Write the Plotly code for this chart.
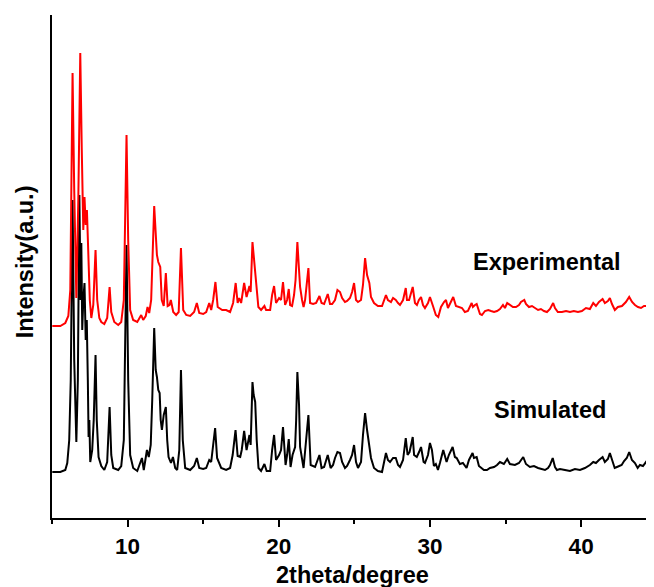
import plotly.graph_objects as go

# Experimental pattern (red), 2theta in degrees and intensity (a.u.)
exp_2theta = [5.02, 5.55, 5.88, 6.08, 6.21, 6.36, 6.47, 6.61, 6.74, 6.87, 6.97, 7.07, 7.15, 7.23, 7.31, 7.40, 7.50, 7.60, 7.73, 7.88,
              7.99, 8.13, 8.26, 8.46, 8.65, 8.81, 8.92, 9.12, 9.38, 9.58, 9.75, 9.93, 10.04, 10.17, 10.37, 10.64, 10.77, 10.90, 11.03, 11.20,
              11.32, 11.43, 11.56, 11.76, 11.94, 12.03, 12.16, 12.26, 12.39, 12.53, 12.65, 12.77, 12.86, 13.02, 13.21, 13.38, 13.53, 13.68, 13.88, 14.14,
              14.40, 14.58, 14.74, 15.00, 15.20, 15.40, 15.53, 15.66, 15.81, 15.96, 16.26, 16.52, 16.78, 16.98, 17.15, 17.28, 17.38, 17.51, 17.71, 17.87,
              18.06, 18.14, 18.26, 18.34, 18.44, 18.54, 18.65, 18.83, 19.05, 19.16, 19.43, 19.56, 19.69, 19.82, 20.02, 20.15, 20.28, 20.42, 20.55, 20.66,
              20.75, 20.88, 21.01, 21.11, 21.23, 21.34, 21.41, 21.54, 21.64, 21.74, 21.84, 21.96, 22.07, 22.27, 22.47, 22.69, 22.83, 23.00, 23.24, 23.39,
              23.53, 23.72, 23.88, 24.05, 24.19, 24.38, 24.52, 24.71, 24.85, 24.98, 25.11, 25.24, 25.44, 25.57, 25.71, 25.84, 25.99, 26.10, 26.30, 26.56,
              26.83, 27.09, 27.22, 27.42, 27.56, 27.74, 27.89, 28.02, 28.22, 28.40, 28.48, 28.62, 28.75, 28.86, 29.01, 29.14, 29.27, 29.41, 29.54, 29.67,
              29.87, 30.00, 30.20, 30.39, 30.55, 30.73, 30.93, 31.06, 31.19, 31.39, 31.54, 31.72, 31.92, 32.12, 32.31, 32.51, 32.76, 32.84, 32.98, 33.09,
              33.31, 33.44, 33.64, 33.86, 34.04, 34.24, 34.44, 34.63, 34.83, 34.96, 35.11, 35.29, 35.49, 35.69, 35.89, 36.02, 36.24, 36.35, 36.55, 36.75,
              36.95, 37.15, 37.34, 37.54, 37.74, 37.94, 38.15, 38.27, 38.46, 38.73, 39.00, 39.26, 39.52, 39.79, 40.05, 40.32, 40.58, 40.80, 40.98, 41.18,
              41.42, 41.57, 41.77, 41.90, 42.04, 42.23, 42.43, 42.70, 42.96, 43.18, 43.37, 43.56, 43.76, 43.96, 44.16, 44.36, 44.56, 44.82]
exp_intensity = [192, 192, 195, 202, 228, 445, 328, 220, 318, 465, 368, 288, 321, 293, 308, 258, 218, 200, 213, 268,
                 218, 200, 196, 194, 200, 231, 206, 196, 193, 196, 218, 383, 278, 208, 198, 196, 200, 203, 198, 202,
                 211, 205, 218, 312, 263, 256, 251, 218, 212, 245, 212, 213, 218, 206, 203, 206, 270, 208, 203, 202,
                 206, 215, 205, 204, 206, 215, 208, 218, 236, 211, 208, 208, 206, 215, 235, 215, 220, 215, 235, 221,
                 232, 226, 276, 263, 252, 233, 211, 208, 212, 208, 208, 223, 232, 215, 220, 218, 236, 213, 218, 229,
                 213, 212, 223, 238, 276, 248, 231, 218, 211, 218, 230, 250, 215, 214, 215, 222, 215, 214, 224, 214,
                 214, 218, 228, 226, 220, 216, 217, 220, 226, 235, 218, 216, 218, 233, 260, 243, 235, 221, 215, 212,
                 212, 223, 218, 216, 220, 218, 215, 213, 218, 230, 218, 218, 225, 231, 215, 213, 218, 221, 213, 210,
                 215, 221, 212, 203, 201, 211, 216, 218, 210, 216, 221, 212, 211, 210, 206, 207, 215, 211, 213, 214,
                 204, 203, 207, 208, 207, 206, 207, 209, 213, 210, 215, 213, 211, 211, 213, 216, 218, 214, 211, 212,
                 210, 208, 209, 207, 206, 209, 215, 210, 206, 206, 207, 206, 207, 206, 207, 210, 209, 215, 212, 216,
                 219, 215, 217, 220, 214, 208, 211, 212, 216, 221, 216, 213, 211, 210, 212, 212, 214, 215]

# Simulated pattern (black)
sim_2theta = [5.02, 5.55, 5.88, 6.01, 6.14, 6.24, 6.36, 6.47, 6.61, 6.71, 6.81, 6.89, 6.94, 7.00, 7.07, 7.15, 7.23, 7.30, 7.37, 7.42,
              7.47, 7.53, 7.66, 7.76, 7.88, 7.96, 8.08, 8.26, 8.46, 8.65, 8.81, 8.92, 9.05, 9.38, 9.58, 9.75, 9.93, 10.04, 10.17, 10.37,
              10.64, 10.77, 10.95, 11.07, 11.28, 11.40, 11.53, 11.63, 11.76, 11.86, 11.94, 12.03, 12.12, 12.19, 12.27, 12.39, 12.53, 12.62, 12.71, 12.87,
              13.00, 13.15, 13.28, 13.42, 13.53, 13.65, 13.81, 14.14, 14.40, 14.58, 14.74, 15.00, 15.20, 15.40, 15.53, 15.66, 15.79, 15.92, 16.19, 16.52,
              16.78, 16.95, 17.14, 17.28, 17.45, 17.55, 17.71, 17.87, 18.06, 18.14, 18.26, 18.34, 18.44, 18.54, 18.66, 18.83, 19.05, 19.20, 19.43, 19.56,
              19.69, 19.82, 20.02, 20.15, 20.28, 20.45, 20.55, 20.66, 20.78, 20.91, 21.08, 21.15, 21.23, 21.34, 21.41, 21.64, 21.81, 21.96, 22.11, 22.40,
              22.69, 22.83, 23.00, 23.24, 23.43, 23.59, 23.72, 23.88, 24.05, 24.19, 24.38, 24.52, 24.71, 24.85, 24.98, 25.11, 25.24, 25.44, 25.57, 25.71,
              25.84, 25.99, 26.10, 26.30, 26.56, 26.83, 27.09, 27.22, 27.36, 27.56, 27.74, 27.89, 28.02, 28.22, 28.40, 28.52, 28.65, 28.75, 28.86, 28.95,
              29.13, 29.28, 29.41, 29.58, 29.67, 29.87, 30.00, 30.13, 30.26, 30.39, 30.53, 30.66, 30.88, 31.10, 31.25, 31.50, 31.65, 31.77, 31.98, 32.18,
              32.42, 32.58, 32.82, 32.91, 33.09, 33.24, 33.42, 33.57, 33.77, 33.97, 34.24, 34.44, 34.63, 34.89, 35.11, 35.29, 35.62, 35.89, 36.17, 36.35,
              36.61, 36.88, 37.15, 37.41, 37.61, 37.81, 37.94, 38.12, 38.27, 38.40, 38.60, 38.93, 39.26, 39.59, 39.92, 40.25, 40.58, 40.80, 40.98, 41.18,
              41.42, 41.57, 41.77, 41.90, 42.04, 42.22, 42.37, 42.68, 42.84, 43.02, 43.18, 43.36, 43.56, 43.74, 43.89, 44.09, 44.29, 44.42, 44.62, 44.82]
sim_intensity = [46, 46, 48, 55, 78, 138, 318, 158, 76, 138, 323, 218, 275, 188, 218, 235, 178, 198, 138, 81,
                 98, 56, 68, 98, 163, 98, 61, 52, 48, 56, 111, 63, 50, 48, 52, 78, 273, 138, 63, 50,
                 47, 52, 60, 48, 68, 61, 73, 118, 190, 148, 141, 128, 125, 98, 88, 103, 111, 78, 61, 55,
                 61, 50, 48, 68, 148, 78, 50, 48, 52, 60, 50, 49, 50, 58, 56, 73, 90, 60, 50, 48,
                 50, 63, 88, 62, 61, 68, 87, 68, 83, 73, 136, 123, 116, 78, 50, 47, 54, 47, 47, 68,
                 83, 58, 63, 68, 91, 53, 63, 79, 51, 63, 71, 98, 146, 113, 71, 50, 78, 103, 53, 51,
                 63, 50, 51, 63, 50, 53, 60, 66, 65, 56, 50, 52, 58, 63, 73, 56, 50, 56, 83, 105,
                 88, 73, 60, 50, 47, 46, 65, 58, 56, 60, 60, 53, 51, 58, 80, 63, 66, 73, 81, 63,
                 61, 66, 71, 56, 55, 63, 75, 68, 52, 54, 48, 55, 68, 56, 63, 71, 61, 60, 54, 55,
                 50, 58, 65, 60, 61, 52, 50, 48, 48, 50, 51, 53, 56, 54, 59, 54, 53, 55, 61, 54,
                 51, 52, 50, 49, 48, 50, 53, 60, 51, 48, 49, 48, 47, 49, 48, 50, 53, 56, 55, 58,
                 61, 56, 59, 65, 58, 50, 51, 53, 57, 60, 66, 58, 55, 50, 53, 52, 56, 53, 55, 53]

x_tick_vals = [10, 20, 30, 40]
x_tick_text = ["10", "20", "30", "40"]
series_names = ["Simulated", "Experimental"]

FONT = "Liberation Sans"

fig = go.Figure()
fig.add_trace(go.Scatter(x=sim_2theta, y=sim_intensity, mode="lines", name=series_names[0],
                         line=dict(color="black", width=2), showlegend=False))
fig.add_trace(go.Scatter(x=exp_2theta, y=exp_intensity, mode="lines", name=series_names[1],
                         line=dict(color="red", width=2), showlegend=False))

label_font = dict(family=FONT, size=23.5, weight="bold", color="black")

fig.update_layout(
    width=646, height=579,
    margin=dict(l=44, r=0, t=7, b=69),
    paper_bgcolor="white", plot_bgcolor="white",
    font=dict(family=FONT, color="black"),
    xaxis=dict(range=[5, 44.82], showgrid=False, zeroline=False,
               showline=True, linecolor="black", linewidth=2,
               ticks="outside", ticklen=7, tickwidth=2, tickcolor="black",
               tickvals=x_tick_vals, ticktext=x_tick_text,
               tickfont=dict(family=FONT, size=22.5, weight="bold", color="black"),
               minor=dict(tickvals=[5, 15, 25, 35], ticks="outside", ticklen=4, tickwidth=2, tickcolor="black")),
    yaxis=dict(range=[0, 503], showgrid=False, zeroline=False,
               showline=True, linecolor="black", linewidth=2,
               showticklabels=False, ticks=""),
    annotations=[
        dict(text="Experimental", xref="paper", yref="paper", x=0.822, y=0.509, showarrow=False,
             xanchor="center", yanchor="middle", font=label_font),
        dict(text="Simulated", xref="paper", yref="paper", x=0.827, y=0.215, showarrow=False,
             xanchor="center", yanchor="middle", font=label_font),
        dict(text="2theta/degree", xref="paper", yref="paper", x=0.4986, y=-0.113, showarrow=False,
             xanchor="center", yanchor="middle", font=label_font),
        dict(text="Intensity(a.u.)", xref="paper", yref="paper", x=-0.0443, y=0.509, showarrow=False,
             xanchor="center", yanchor="middle", textangle=-90, font=label_font),
    ],
)

fig.write_html("out.html")
